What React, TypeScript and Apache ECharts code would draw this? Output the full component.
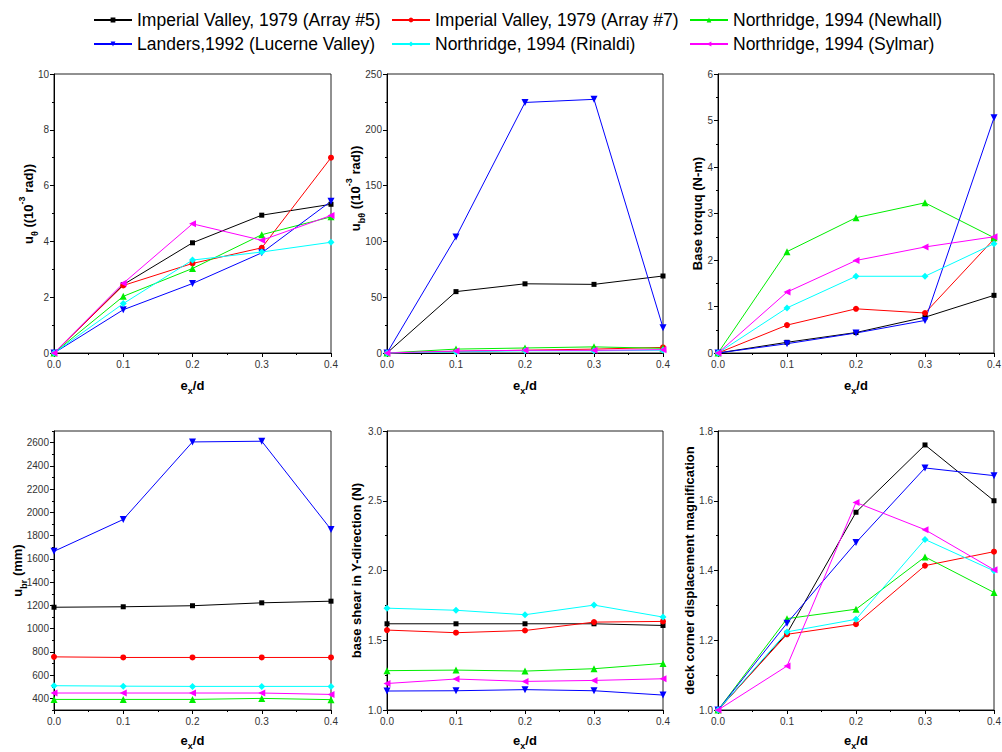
import React, { useEffect, useRef } from "react";
import * as echarts from "echarts";

// ---- data ----
const X_VALUES = [0, 0.1, 0.2, 0.3, 0.4];

const SERIES_NAMES = [
  "Imperial Valley, 1979 (Array #5)",
  "Imperial Valley, 1979 (Array #7)",
  "Northridge, 1994 (Newhall)",
  "Landers,1992 (Lucerne Valley)",
  "Northridge, 1994 (Rinaldi)",
  "Northridge, 1994 (Sylmar)",
];

// panel 1: u_theta (10^-3 rad)
const uThetaValues = [
  [0, 2.45, 3.95, 4.94, 5.33],
  [0, 2.42, 3.21, 3.77, 7.0],
  [0, 2.03, 3.03, 4.24, 4.88],
  [0, 1.55, 2.49, 3.59, 5.44],
  [0, 1.77, 3.33, 3.62, 3.97],
  [0, 2.5, 4.63, 4.04, 4.93],
];

// panel 2: u_btheta (10^-3 rad)
const ubThetaValues = [
  [0, 55, 62, 61.5, 69],
  [0, 1.5, 2.5, 3.5, 5],
  [0, 3.5, 4.5, 5.5, 4.2],
  [0, 104, 224.5, 227.3, 22.7],
  [0, 1, 2, 2, 2.5],
  [0, 1.8, 2.4, 2.4, 3],
];

// panel 3: base torque (N-m)
const torqueValues = [
  [0, 0.23, 0.44, 0.77, 1.24],
  [0, 0.6, 0.95, 0.86, 2.45],
  [0, 2.18, 2.91, 3.23, 2.48],
  [0, 0.2, 0.43, 0.7, 5.06],
  [0, 0.97, 1.65, 1.65, 2.35],
  [0, 1.31, 1.99, 2.28, 2.5],
];

// panel 4: u_br (mm)
const ubrValues = [
  [1184, 1188, 1197, 1222, 1236],
  [757, 752, 752, 752, 752],
  [391, 391, 391, 400, 389],
  [1665, 1939, 2606, 2612, 1853],
  [509, 505, 503, 503, 503],
  [446, 446, 446, 446, 434],
];

// panel 5: base shear in Y-direction (N)
const shearValues = [
  [1.618, 1.618, 1.618, 1.618, 1.606],
  [1.573, 1.554, 1.57, 1.63, 1.635],
  [1.282, 1.286, 1.279, 1.296, 1.334],
  [1.136, 1.138, 1.146, 1.138, 1.107],
  [1.73, 1.715, 1.683, 1.752, 1.666],
  [1.19, 1.222, 1.205, 1.212, 1.224],
];

// panel 6: deck corner displacement magnification
const magnificationValues = [
  [1.0, 1.22, 1.567, 1.76, 1.6],
  [1.0, 1.217, 1.246, 1.414, 1.454],
  [1.0, 1.262, 1.289, 1.439, 1.337],
  [1.0, 1.249, 1.48, 1.694, 1.672],
  [1.0, 1.224, 1.26, 1.489, 1.399],
  [1.0, 1.126, 1.595, 1.517, 1.402],
];

// axis ranges: [min, max, interval, decimals]
const X_RANGE = [0, 0.4, 0.1, 1];
const Y1_RANGE = [0, 10, 2, 0];
const Y2_RANGE = [0, 250, 50, 0];
const Y3_RANGE = [0, 6, 1, 0];
const Y4_RANGE = [300, 2700];
const Y4_TICKS = [400, 600, 800, 1000, 1200, 1400, 1600, 1800, 2000, 2200, 2400, 2600];
const Y4_MINOR = [300, 500, 700, 900, 1100, 1300, 1500, 1700, 1900, 2100, 2300, 2500, 2700];
const Y5_RANGE = [1.0, 3.0, 0.5, 1];
const Y6_RANGE = [1.0, 1.8, 0.2, 1];

const Y_NAMES = [
  "{m|u}{s|θ}{m| ((10}{u|-3}{m| rad))}",
  "{m|u}{s|bθ}{m| ((10}{u|-3}{m| rad))}",
  "{m|Base torquq (N-m)}",
  "{m|u}{s|br}{m| (mm)}",
  "{m|base shear in Y-direction (N)}",
  "{m|deck corner displacement magnification}",
];
const X_NAME = "{m|e}{s|x}{m|/d}";

// ---- styling ----
const COLORS = ["#000000", "#ff0000", "#00ee00", "#0000ff", "#00ffff", "#ff00ff"];
const SYMBOLS = ["rect", "circle", "triangle", "triangle", "diamond", "triangle"];
const SYMBOL_ROTATE = [0, 0, 0, 180, 0, 90];
const SYMBOL_SIZE = [5, 6, 7, 7, 7, 7];

const FONT = "'Liberation Sans', Arial, sans-serif";
const LEGEND_FONT = "'Liberation Sans', Arial, sans-serif";

const GRIDS = [
  { left: 54, top: 74, width: 277, height: 279 },
  { left: 387, top: 74, width: 276, height: 279 },
  { left: 718, top: 74, width: 276, height: 279 },
  { left: 54, top: 431, width: 277, height: 279 },
  { left: 387, top: 431, width: 276, height: 279 },
  { left: 718, top: 431, width: 276, height: 279 },
];
const Y_NAME_GAP = [15, 21, 10, 26, 20, 18];
const Y_NAME_SHIFT = [19, 50, 0, 0, 0, 0];
const X_NAME_GAP = [22, 22, 22, 20, 20, 20];

const LEGEND_LEFT = [93, 391, 689];
const LEGEND_TOP = [11, 35];

function nameRich(lineHeight: number) {
  return {
    m: { fontSize: 13, fontWeight: "bold", lineHeight, verticalAlign: "middle", fontFamily: FONT, color: "#000" },
    s: { fontSize: 9, fontWeight: "bold", lineHeight: 10, verticalAlign: "bottom", fontFamily: FONT, color: "#000" },
    u: { fontSize: 9, fontWeight: "bold", lineHeight: 10, verticalAlign: "top", fontFamily: FONT, color: "#000" },
  };
}

const tickLine = { color: "#000", width: 1 };

function valueYAxis(gridIndex: number, range: number[], nameIdx: number) {
  const [min, max, interval, dec] = range;
  return {
    type: "value",
    gridIndex,
    min,
    max,
    interval,
    name: Y_NAMES[nameIdx],
    nameLocation: "middle",
    nameGap: Y_NAME_GAP[nameIdx],
    nameMoveOverlap: false,
    nameTextStyle: {
      rich: nameRich(22),
      padding: [0, 0, 0, Y_NAME_SHIFT[nameIdx]],
    },
    axisLine: { show: true, lineStyle: tickLine },
    axisTick: { show: true, inside: false, length: 4, lineStyle: tickLine },
    minorTick: { show: true, splitNumber: 2, length: 2, lineStyle: tickLine },
    splitLine: { show: false },
    axisLabel: {
      margin: 5,
      fontSize: 10,
      fontFamily: FONT,
      color: "#333",
      formatter: (v: number) => v.toFixed(dec),
    },
  };
}

function buildOption() {
  const panels = [uThetaValues, ubThetaValues, torqueValues, ubrValues, shearValues, magnificationValues];

  const xAxis = GRIDS.map((_, i) => ({
    type: "value",
    gridIndex: i,
    min: X_RANGE[0],
    max: X_RANGE[1],
    interval: X_RANGE[2],
    name: X_NAME,
    nameLocation: "middle",
    nameGap: X_NAME_GAP[i],
    nameMoveOverlap: false,
    nameTextStyle: { rich: nameRich(20) },
    axisLine: { show: true, onZero: false, lineStyle: tickLine },
    axisTick: { show: true, inside: false, length: 4, lineStyle: tickLine },
    minorTick: { show: true, splitNumber: 2, length: 2, lineStyle: tickLine },
    splitLine: { show: false },
    axisLabel: {
      margin: 6,
      fontSize: 10,
      fontFamily: FONT,
      color: "#333",
      formatter: (v: number) => v.toFixed(X_RANGE[3]),
    },
  }));

  const y4: any = {
    type: "value",
    gridIndex: 3,
    min: Y4_RANGE[0],
    max: Y4_RANGE[1],
    name: Y_NAMES[3],
    nameLocation: "middle",
    nameGap: Y_NAME_GAP[3],
    nameMoveOverlap: false,
    nameTextStyle: { rich: nameRich(22) },
    axisLine: { show: true, onZero: false, lineStyle: tickLine },
    axisTick: { show: true, inside: false, length: 4, lineStyle: tickLine, customValues: Y4_TICKS },
    splitLine: { show: false },
    axisLabel: {
      margin: 5,
      fontSize: 10,
      fontFamily: FONT,
      color: "#333",
      customValues: Y4_TICKS,
      formatter: (v: number) => String(Math.round(v)),
    },
  };
  const y4Minor: any = {
    type: "value",
    gridIndex: 3,
    min: Y4_RANGE[0],
    max: Y4_RANGE[1],
    position: "left",
    axisLine: { show: false },
    axisLabel: { show: false, customValues: Y4_MINOR },
    axisTick: { show: true, inside: false, length: 2, lineStyle: tickLine, customValues: Y4_MINOR },
    splitLine: { show: false },
  };

  const yAxis: any[] = [
    valueYAxis(0, Y1_RANGE, 0),
    valueYAxis(1, Y2_RANGE, 1),
    valueYAxis(2, Y3_RANGE, 2),
    y4,
    valueYAxis(4, Y5_RANGE, 4),
    valueYAxis(5, Y6_RANGE, 5),
    y4Minor,
  ];

  const series: any[] = [];
  panels.forEach((panel, p) => {
    panel.forEach((vals, s) => {
      series.push({
        type: "line",
        name: SERIES_NAMES[s],
        xAxisIndex: p,
        yAxisIndex: p,
        data: X_VALUES.map((x, k) => [x, vals[k]]),
        symbol: SYMBOLS[s],
        symbolSize: SYMBOL_SIZE[s],
        symbolRotate: SYMBOL_ROTATE[s],
        showAllSymbol: true,
        lineStyle: { color: COLORS[s], width: 1 },
        itemStyle: { color: COLORS[s] },
        emphasis: { disabled: true },
        clip: false,
      });
    });
  });

  const legend = SERIES_NAMES.map((n, i) => ({
    data: [n],
    left: LEGEND_LEFT[i % 3],
    top: LEGEND_TOP[Math.floor(i / 3)],
    orient: "horizontal",
    padding: 0,
    itemWidth: 38,
    itemHeight: 6,
    selectedMode: false,
    textStyle: { fontFamily: LEGEND_FONT, fontSize: 17.5, color: "#000" },
  }));

  return {
    animation: false,
    backgroundColor: "#ffffff",
    textStyle: { fontFamily: FONT },
    legend,
    grid: GRIDS.map((g) => ({
      ...g,
      show: true,
      borderColor: "#222",
      borderWidth: 1,
      backgroundColor: "transparent",
      containLabel: false,
      outerBoundsMode: "none",
    })),
    xAxis,
    yAxis,
    series,
  };
}

export default function App() {
  const ref = useRef<HTMLDivElement>(null);
  useEffect(() => {
    if (!ref.current) return;
    const chart = echarts.init(ref.current, null, { renderer: "svg" });
    chart.setOption(buildOption() as any);
    return () => chart.dispose();
  }, []);
  return (
    <div
      ref={ref}
      style={{ position: "absolute", left: 0, top: 0, width: 1002, height: 752, background: "#fff" }}
    />
  );
}
